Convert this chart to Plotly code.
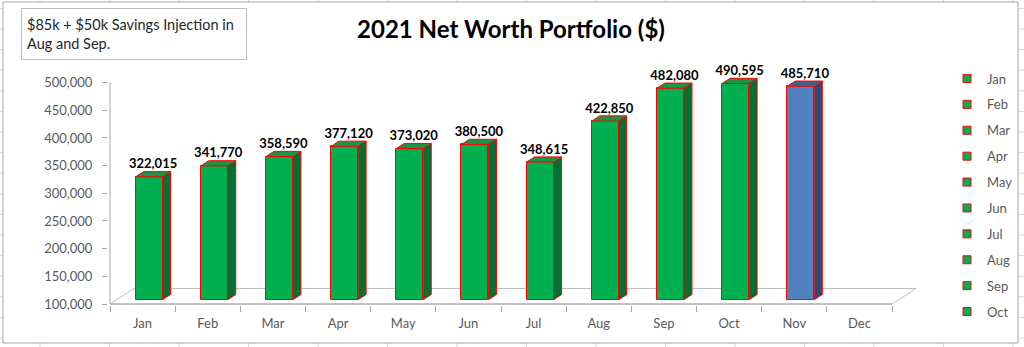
import plotly.graph_objects as go

# ---- data -------------------------------------------------------------
months = ["Jan", "Feb", "Mar", "Apr", "May", "Jun",
          "Jul", "Aug", "Sep", "Oct", "Nov", "Dec"]
net_worth = [322015, 341770, 358590, 377120, 373020, 380500,
             348615, 422850, 482080, 490595, 485710]
legend_months = ["Jan", "Feb", "Mar", "Apr", "May",
                 "Jun", "Jul", "Aug", "Sep", "Oct"]
y_ticks = [100000, 150000, 200000, 250000, 300000,
           350000, 400000, 450000, 500000]

title_text = "2021 Net Worth Portfolio ($)"
note_text = "$85k + $50k Savings Injection in<br>Aug and Sep."

# ---- geometry (pixels) --------------------------------------------------
W, H = 1024, 347
L, R, T, B = 108, 918, 52, 305          # plot area edges
X_LEFT_PX = 110                         # pixel of the left category boundary
Y_BASE_PX = 304                         # pixel of the value-axis floor
PX_PER_CAT = 65.17
PX_PER_VAL = 27.67 / 50000
BASE = y_ticks[0]
N_CAT = len(months)

# depth / bar sizes in data units
BAR_W = 27 / PX_PER_CAT
SHIFT_X, SHIFT_Y = 6.5 / PX_PER_CAT, 4.3 / PX_PER_VAL
DEPTH_X, DEPTH_Y = 8 / PX_PER_CAT, 5.2 / PX_PER_VAL
FLOOR_X, FLOOR_Y = 24 / PX_PER_CAT, 15.5 / PX_PER_VAL

x_min = -0.5 - (X_LEFT_PX - L) / PX_PER_CAT
x_max = -0.5 + (R - X_LEFT_PX) / PX_PER_CAT
y_min = BASE - (B - Y_BASE_PX) / PX_PER_VAL
y_max = BASE + (Y_BASE_PX - T) / PX_PER_VAL

FONT = "Lato"
RED = "#FF0000"
GREEN = ("#00B050", "#007034", "#1A9446")   # front, side, top
BLUE = ("#4F81BD", "#2E4A72", "#3D6293")


def px_x(p):
    return (p - L) / (R - L)


def px_y(p):
    return (B - p) / (B - T)


fig = go.Figure()

latest = len(net_worth) - 1
for i, v in enumerate(net_worth):
    front, side, top = BLUE if i == latest else GREEN
    xc = i + SHIFT_X
    x0, x1 = xc - BAR_W / 2, xc + BAR_W / 2
    yb, yt = BASE + SHIFT_Y, v + SHIFT_Y
    # front face
    fig.add_trace(go.Bar(
        x=[xc], y=[v - BASE], base=[yb], width=BAR_W,
        marker=dict(color=front, line=dict(color=RED, width=1)),
        showlegend=False, hoverinfo="skip"))
    # side face
    fig.add_trace(go.Scatter(
        x=[x1, x1 + DEPTH_X, x1 + DEPTH_X, x1, x1],
        y=[yb, yb + DEPTH_Y, yt + DEPTH_Y, yt, yb],
        mode="lines", fill="toself", fillcolor=side,
        line=dict(color=RED, width=1), showlegend=False, hoverinfo="skip"))
    # top face
    fig.add_trace(go.Scatter(
        x=[x0, x1, x1 + DEPTH_X, x0 + DEPTH_X, x0],
        y=[yt, yt, yt + DEPTH_Y, yt + DEPTH_Y, yt],
        mode="lines", fill="toself", fillcolor=top,
        line=dict(color=RED, width=1), showlegend=False, hoverinfo="skip"))

# value labels above each column
fig.add_trace(go.Scatter(
    x=[i + SHIFT_X + DEPTH_X / 2 for i in range(len(net_worth))],
    y=[v + SHIFT_Y + DEPTH_Y for v in net_worth],
    text=[f"{v:,}" for v in net_worth],
    mode="text", textposition="top center",
    textfont=dict(family=FONT, size=13, color="black", weight="bold"),
    cliponaxis=False, showlegend=False, hoverinfo="skip"))

# legend entries
for m in legend_months:
    fig.add_trace(go.Scatter(
        x=[None], y=[None], mode="markers", name=m, legendgroup=m,
        marker=dict(symbol="square", size=8, color=GREEN[0],
                    line=dict(color=RED, width=1))))

shapes = []
# worksheet cell grid behind the chart object
for k in range(-1, 15):
    xp = 40 + 69.5 * k
    shapes.append(dict(type="line", xref="paper", yref="paper", layer="below",
                       x0=px_x(xp), x1=px_x(xp), y0=px_y(0), y1=px_y(H),
                       line=dict(color="#D9D9D9", width=1)))
for k in range(-1, 18):
    yp = 8.4 + 20.6 * k
    shapes.append(dict(type="line", xref="paper", yref="paper", layer="below",
                       x0=px_x(0), x1=px_x(W), y0=px_y(yp), y1=px_y(yp),
                       line=dict(color="#D9D9D9", width=1)))
# chart area
shapes.append(dict(type="rect", xref="paper", yref="paper", layer="below",
                   x0=px_x(3), x1=px_x(1018), y0=px_y(2), y1=px_y(343),
                   fillcolor="white", line=dict(color="#A6A6A6", width=1)))
# floor
fx0, fx1 = -0.5, N_CAT - 0.5
shapes.append(dict(type="path", xref="x", yref="y", layer="below",
                   path=(f"M{fx0},{BASE} L{fx1},{BASE} "
                         f"L{fx1 + FLOOR_X},{BASE + FLOOR_Y} "
                         f"L{fx0 + FLOOR_X},{BASE + FLOOR_Y} Z"),
                   line=dict(color="#BFBFBF", width=1)))
shapes.append(dict(type="line", xref="x", yref="y", layer="below",
                   x0=fx0, x1=fx1, y0=BASE, y1=BASE,
                   line=dict(color="#A6A6A6", width=1)))
# value axis line
shapes.append(dict(type="line", xref="x", yref="y", layer="below",
                   x0=fx0, x1=fx0, y0=BASE, y1=y_ticks[-1],
                   line=dict(color="#A6A6A6", width=1)))

fig.update_layout(
    width=W, height=H, autosize=False,
    margin=dict(l=L, r=W - R, t=T, b=H - B, autoexpand=False),
    paper_bgcolor="white", plot_bgcolor="rgba(0,0,0,0)",
    barmode="overlay", bargap=0,
    font=dict(family=FONT, color="#595959"),
    title=dict(text=f"<b>{title_text}</b>", x=511 / W, xanchor="center",
               xref="container", y=1 - 30 / H, yanchor="middle",
               yref="container",
               font=dict(family=FONT, size=24, color="black")),
    xaxis=dict(range=[x_min, x_max], tickvals=list(range(N_CAT)),
               ticktext=months, ticks="", showgrid=False, zeroline=False,
               showline=False, ticklabelstandoff=9,
               tickfont=dict(family=FONT, size=13, color="#595959"),
               minor=dict(tickvals=[k - 0.5 for k in range(N_CAT + 1)],
                          ticks="outside", ticklen=6, tickcolor="#A6A6A6",
                          tickwidth=1, showgrid=False)),
    yaxis=dict(range=[y_min, y_max], tickvals=y_ticks, tickformat=",",
               ticks="outside", ticklen=5, tickcolor="#A6A6A6",
               showgrid=False, zeroline=False, showline=False,
               ticklabelstandoff=7,
               tickfont=dict(family=FONT, size=13, color="#595959")),
    legend=dict(x=px_x(947), xanchor="left", y=px_y(63.5), yanchor="top",
                font=dict(family=FONT, size=13, color="#595959"),
                tracegroupgap=6, maxheight=340,
                bgcolor="rgba(0,0,0,0)"),
    shapes=shapes,
    annotations=[dict(text=note_text, xref="paper", yref="paper",
                      x=px_x(21), y=px_y(8), xanchor="left", yanchor="top",
                      showarrow=False, align="left", valign="middle",
                      width=214, height=40, borderpad=5, borderwidth=1,
                      bordercolor="#BFBFBF", bgcolor="white",
                      font=dict(family=FONT, size=14.5, color="#262626"))],
)

fig.write_html("out.html")
